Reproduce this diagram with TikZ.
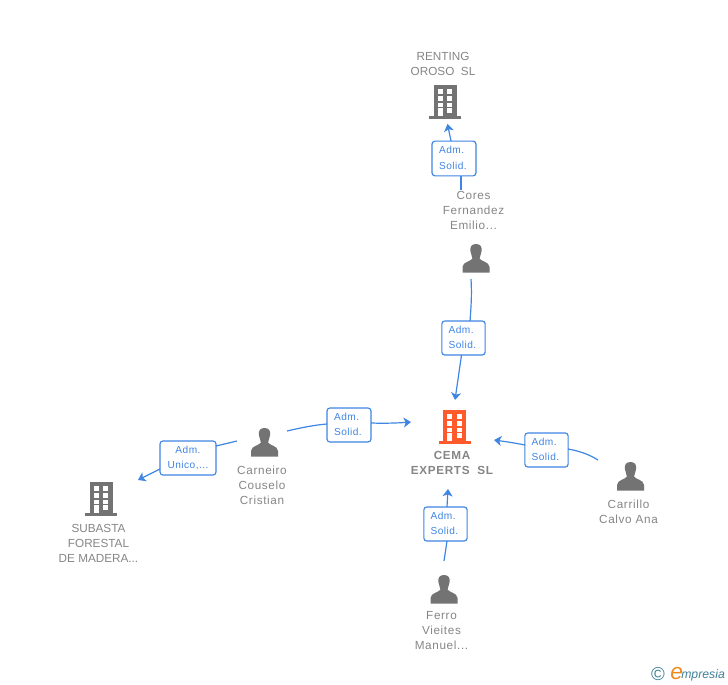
\documentclass[tikz,border=0pt]{standalone}
\usepackage{fontspec}
\setmainfont{Liberation Sans}
\newfontfamily\spacedfont[LetterSpace=5.5]{Liberation Sans}
\newfontfamily\rolefont[LetterSpace=4.5]{Liberation Sans}
\usetikzlibrary{arrows.meta}
\definecolor{lnk}{HTML}{3F85E2}
\definecolor{lbl}{HTML}{858585}
\definecolor{icn}{HTML}{737373}
\definecolor{hot}{HTML}{FF5A2B}
\tikzset{
  x=0.75pt,y=-0.75pt,
  rolebox/.style={draw=lnk,line width=0.85pt,rounded corners=2.2pt,fill=white,text=lnk,inner sep=0pt,font=\rolefont\fontsize{7.6}{11.2}\selectfont},
  captxt/.style={text=lbl,align=center,inner sep=0pt,font=\fontsize{8.8}{11.25}\selectfont},
  nametxt/.style={text=lbl,align=center,inner sep=0pt,font=\spacedfont\fontsize{8.8}{11.25}\selectfont},
  bcaptxt/.style={text=lbl,align=center,inner sep=0pt,font=\spacedfont\fontsize{8.8}{11.25}\selectfont\bfseries},
  link/.style={draw=lnk,line width=0.9pt},
  arrowlink/.style={link,-{Stealth[length=5.5pt,width=7.5pt,inset=1.5pt]}},
  pics/bldg/.style={code={
    \fill[#1] (-11.5,-17) rectangle (11.5,14);
    \fill[#1] (-16,14) rectangle (16,17);
    \foreach \yy/\hh in {-12.7/4.7,-6/4.7,0.7/4}{
      \fill[white] (-7.5,\yy) rectangle (-2.5,{\yy+\hh});
      \fill[white] (2,\yy) rectangle (7,{\yy+\hh});
    }
    \fill[white] (-7.5,6) rectangle (-2.5,14);
    \fill[white] (2,6) rectangle (7,11);
  }},
  pics/prsn/.style={code={
    \fill[icn] (0,-14) .. controls (-4.5,-14) and (-6,-11) .. (-5.7,-7.5) .. controls (-5.4,-4.5) and (-4,-2.5) .. (-3.6,0.5) .. controls (-5,3.5) and (-13,3.5) .. (-13.5,9) -- (-13.5,14.5) -- (13.5,14.5) -- (13.5,9) .. controls (13,3.5) and (5,3.5) .. (3.6,0.5) .. controls (4,-2.5) and (5.4,-4.5) .. (5.7,-7.5) .. controls (6,-11) and (4.5,-14) .. (0,-14) -- cycle;
  }},
}
\newcommand{\admsolid}{\raisebox{-0.6pt}{\begin{tabular}{@{}l@{\hspace{1.5pt}}}Adm.\\[0.2pt]Solid.\end{tabular}}}
\begin{document}
\begin{tikzpicture}
\useasboundingbox (0,0) rectangle (728,685);
% icons
\pic at (445,102) {bldg=icn};
\pic at (454.5,427) {bldg=hot};
\pic at (101,499) {bldg=icn};
\pic at (476,258) {prsn};
\pic at (264.5,442) {prsn};
\pic at (630.5,476) {prsn};
\pic at (444,589) {prsn};
% captions
\node[captxt] (renting) at (443,63.5) {RENTING\\OROSO\ \ SL};
\node[nametxt] (cores) at (473.5,210) {Cores\\Fernandez\\Emilio...};
\node[bcaptxt] (cema) at (452,462.5) {CEMA\\EXPERTS\ \ SL};
\node[nametxt] (carneiro) at (262,485) {Carneiro\\Couselo\\Cristian};
\node[captxt] (subasta) at (98.5,543) {SUBASTA\\FORESTAL\\DE MADERA...};
\node[nametxt] (carrillo) at (628.5,511.5) {Carrillo\\Calvo Ana};
\node[nametxt] (ferro) at (441.5,631) {Ferro\\Vieites\\Manuel...};
% connector ends
\coordinate (a1) at (447.5,124);
\coordinate (s1) at (461,190);
\coordinate (s2) at (471,279);
\coordinate (a2) at (455,400);
\coordinate (s3) at (287,431);
\coordinate (a3) at (411,422);
\coordinate (s4) at (237,441);
\coordinate (a4) at (138,480);
\coordinate (s5) at (598,460);
\coordinate (a5) at (494,440);
\coordinate (s6) at (444,561);
\coordinate (a6) at (448,489);
% role boxes
\node[rolebox,minimum width=33pt,minimum height=26pt] (b1) at (454,158.5) {\admsolid};
\node[rolebox,minimum width=32.5pt,minimum height=25.5pt] (b2) at (463.5,338) {\admsolid};
\node[rolebox,minimum width=33pt,minimum height=25.5pt] (b3) at (349,425) {\admsolid};
\node[rolebox,minimum width=42pt,minimum height=25.5pt,align=center] (b4) at (188,458) {Adm.\\Unico,...};
\node[rolebox,minimum width=32.5pt,minimum height=25.5pt] (b5) at (546.5,450) {\admsolid};
\node[rolebox,minimum width=32.5pt,minimum height=25.5pt] (b6) at (445.5,524) {\admsolid};
% connectors
\draw[link] (s1) -- (s1|-b1.south);
\draw[arrowlink] (451,141) -- (a1);
\draw[link] (s2) .. controls (472,295) and (471,308) .. (470,321);
\draw[arrowlink] (461.5,355) -- (a2);
\draw[link] (s3) .. controls (300,428) and (314,425) .. (327,424);
\draw[arrowlink] (371,423) .. controls (385,423.5) and (398,423) .. (a3);
\draw[link] (s4) -- (216,446);
\draw[arrowlink] (160,469) -- (a4);
\draw[link] (s5) .. controls (590,455) and (580,451) .. (568,449);
\draw[arrowlink] (525,445) .. controls (515,443) and (505,441.5) .. (a5);
\draw[link] (s6) -- (447,541);
\draw[arrowlink] (447,507) -- (a6);
% logo
\node[inner sep=0pt] (logoa) at (658,674) {\textcolor[HTML]{3F7F96}{\fontsize{14}{14}\selectfont©}};
\node[inner sep=0pt,anchor=base west] (logob) at (670,679) {\textcolor[HTML]{F08A1D}{\fontsize{17}{17}\selectfont\itshape e}};
\node[inner sep=0pt,anchor=base west] (logoc) at (681,678) {\textcolor[HTML]{3F7F96}{\fontsize{9.2}{10}\selectfont\itshape mpresia}};
\end{tikzpicture}
\end{document}
